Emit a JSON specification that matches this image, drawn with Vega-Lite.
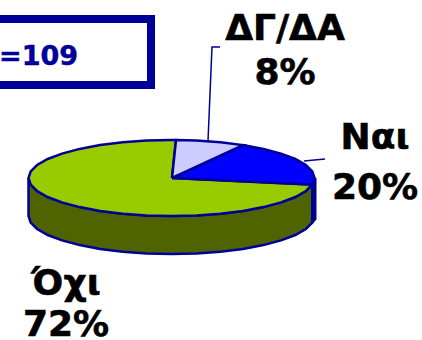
{"$schema":"https://vega.github.io/schema/vega-lite/v6.json","width":422,"height":340,"padding":0,"autosize":{"type":"none"},"background":"white","config":{"view":{"stroke":null}},
"datasets":{
"side":[{"i":1,"x":28.5,"y":178},{"i":2,"x":30.7,"y":184.6},{"i":3,"x":37.1,"y":191},{"i":4,"x":47.7,"y":197},{"i":5,"x":62,"y":202.4},{"i":6,"x":79.6,"y":207.1},{"i":7,"x":100,"y":210.9},{"i":8,"x":122.6,"y":213.7},{"i":9,"x":146.7,"y":215.4},{"i":10,"x":171.5,"y":216},{"i":11,"x":196.3,"y":215.4},{"i":12,"x":220.4,"y":213.7},{"i":13,"x":243,"y":210.9},{"i":14,"x":263.4,"y":207.1},{"i":15,"x":281,"y":202.4},{"i":16,"x":295.3,"y":197},{"i":17,"x":305.9,"y":191},{"i":18,"x":312.3,"y":184.6},{"i":19,"x":312.3,"y":222.6},{"i":20,"x":305.9,"y":229},{"i":21,"x":295.3,"y":235},{"i":22,"x":281,"y":240.4},{"i":23,"x":263.4,"y":245.1},{"i":24,"x":243,"y":248.9},{"i":25,"x":220.4,"y":251.7},{"i":26,"x":196.3,"y":253.4},{"i":27,"x":171.5,"y":254},{"i":28,"x":146.7,"y":253.4},{"i":29,"x":122.6,"y":251.7},{"i":30,"x":100,"y":248.9},{"i":31,"x":79.6,"y":245.1},{"i":32,"x":62,"y":240.4},{"i":33,"x":47.7,"y":235},{"i":34,"x":37.1,"y":229},{"i":35,"x":30.7,"y":222.6},{"i":36,"x":28.5,"y":216},{"i":37,"x":28.5,"y":178}],
"sideBlue":[{"i":1,"x":312.3,"y":184.6},{"i":2,"x":315.5,"y":178},{"i":3,"x":315.5,"y":219},{"i":4,"x":312.3,"y":222.6},{"i":5,"x":312.3,"y":184.6}],
"oxi":[{"i":1,"x":172,"y":178},{"i":2,"x":312.3,"y":184.6},{"i":3,"x":305.9,"y":191},{"i":4,"x":295.3,"y":197},{"i":5,"x":281,"y":202.4},{"i":6,"x":263.4,"y":207.1},{"i":7,"x":243,"y":210.9},{"i":8,"x":220.4,"y":213.7},{"i":9,"x":196.3,"y":215.4},{"i":10,"x":171.5,"y":216},{"i":11,"x":146.7,"y":215.4},{"i":12,"x":122.6,"y":213.7},{"i":13,"x":100,"y":210.9},{"i":14,"x":79.6,"y":207.1},{"i":15,"x":62,"y":202.4},{"i":16,"x":47.7,"y":197},{"i":17,"x":37.1,"y":191},{"i":18,"x":30.7,"y":184.6},{"i":19,"x":28.5,"y":178},{"i":20,"x":30.7,"y":171.4},{"i":21,"x":37.1,"y":165},{"i":22,"x":47.7,"y":159},{"i":23,"x":62,"y":153.6},{"i":24,"x":79.6,"y":148.9},{"i":25,"x":100,"y":145.1},{"i":26,"x":122.6,"y":142.3},{"i":27,"x":146.7,"y":140.6},{"i":28,"x":171.5,"y":140},{"i":29,"x":176,"y":140},{"i":30,"x":172,"y":178}],
"nai":[{"i":1,"x":172,"y":178},{"i":2,"x":243,"y":145.1},{"i":3,"x":263.4,"y":148.9},{"i":4,"x":281,"y":153.6},{"i":5,"x":295.3,"y":159},{"i":6,"x":305.9,"y":165},{"i":7,"x":312.3,"y":171.4},{"i":8,"x":314.5,"y":178},{"i":9,"x":312.3,"y":184.6},{"i":10,"x":172,"y":178}],
"dk":[{"i":1,"x":172,"y":178},{"i":2,"x":176,"y":140},{"i":3,"x":196.3,"y":140.6},{"i":4,"x":220.4,"y":142.3},{"i":5,"x":243,"y":145.1},{"i":6,"x":172,"y":178}],
"leaders":[{"k":"a","i":1,"x":208,"y":141},{"k":"a","i":2,"x":212,"y":47},{"k":"a","i":3,"x":220,"y":47},{"k":"b","i":1,"x":304,"y":161},{"k":"b","i":2,"x":325,"y":159}],
"labels":[{"t":"ΔΓ/ΔΑ","x":285,"y":40},{"t":"8%","x":285,"y":84},{"t":"Ναι","x":375,"y":149},{"t":"20%","x":375,"y":199},{"t":"Όχι","x":66,"y":295},{"t":"72%","x":66,"y":336}]
},
"encoding":{"x":{"field":"x","type":"quantitative","scale":{"domain":[0,422],"nice":false,"zero":false},"axis":null},"y":{"field":"y","type":"quantitative","scale":{"domain":[340,0],"nice":false,"zero":false},"axis":null}},
"layer":[
{"data":{"values":[{"x":-20,"x2":151,"y":19,"y2":85}]},"mark":{"type":"rect","fill":"white","stroke":"#000099","strokeWidth":8,"clip":true},"encoding":{"x2":{"field":"x2"},"y2":{"field":"y2"}}},
{"data":{"values":[{"t":"=109","x":78,"y":65}]},"mark":{"type":"text","align":"right","baseline":"alphabetic","font":"DejaVu Sans","fontWeight":"bold","fontSize":27,"color":"#000099","stroke":"#000099","strokeWidth":0.5},"encoding":{"text":{"field":"t"}}},
{"data":{"name":"side"},"mark":{"type":"line","fill":"#4F6300","stroke":"#000099","strokeWidth":2.5},"encoding":{"order":{"field":"i"}}},
{"data":{"name":"sideBlue"},"mark":{"type":"line","fill":"#000080","stroke":"#000099","strokeWidth":2},"encoding":{"order":{"field":"i"}}},
{"data":{"name":"oxi"},"mark":{"type":"line","fill":"#99CC00","stroke":"#000099","strokeWidth":2.5},"encoding":{"order":{"field":"i"}}},
{"data":{"name":"nai"},"mark":{"type":"line","fill":"#0000FF","stroke":"#000099","strokeWidth":2.5},"encoding":{"order":{"field":"i"}}},
{"data":{"name":"dk"},"mark":{"type":"line","fill":"#CCCCFF","stroke":"#000099","strokeWidth":2.5},"encoding":{"order":{"field":"i"}}},
{"data":{"name":"leaders"},"mark":{"type":"line","stroke":"#000099","strokeWidth":1.5},"encoding":{"detail":{"field":"k"},"order":{"field":"i"}}},
{"data":{"name":"labels"},"mark":{"type":"text","align":"center","baseline":"alphabetic","font":"DejaVu Sans","fontWeight":"bold","fontSize":36,"color":"black","stroke":"black","strokeWidth":0.6},"encoding":{"text":{"field":"t"}}}
]}
